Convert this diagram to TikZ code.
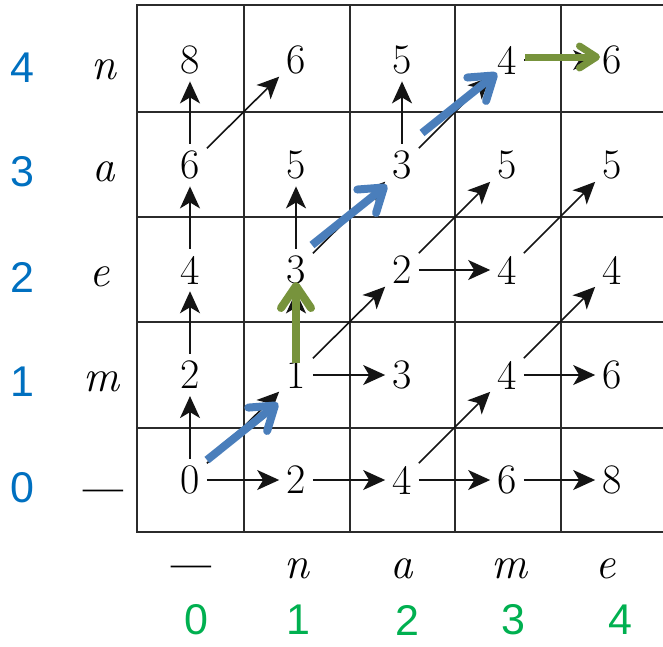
\documentclass[tikz,border=0pt]{standalone}
\usepackage{fontspec}
\newfontfamily\labelfont{Liberation Sans}
\newfontfamily\dashfont{Latin Modern Roman}[FakeBold=2.5]
\usetikzlibrary{arrows.meta}
\definecolor{lblblue}{HTML}{0070C0}
\definecolor{lblgreen}{HTML}{00B050}
\definecolor{arrblue}{HTML}{4A7EBB}
\definecolor{arrgreen}{HTML}{77933C}
\definecolor{gridc}{HTML}{2B2B2B}
\begin{document}
\begin{tikzpicture}[x=1pt,y=-1pt,
  num/.style={font=\fontsize{42}{50}\selectfont, inner sep=7pt},
  letter/.style={font=\fontsize{45}{52}\selectfont\itshape, inner sep=0pt},
  dashlbl/.style={font=\dashfont\fontsize{42}{50}\selectfont, inner sep=0pt},
  lbl/.style={font=\labelfont\fontsize{43}{50}\selectfont, inner sep=0pt},
  gridline/.style={draw=gridc, line width=2pt},
  blk/.style={draw=black!92, line width=1.6pt, -{Stealth[length=22pt,width=20pt,inset=6pt]}},
  bluearr/.style={draw=arrblue, line width=8pt, -{Straight Barb[length=22pt,width=30pt,round]}},
  greenarr/.style={draw=arrgreen, line width=8pt, -{Straight Barb[length=22pt,width=30pt,round]}},
  greensmall/.style={draw=arrgreen, line width=7pt, -{Straight Barb[length=17pt,width=22pt,round]}}
]
\useasboundingbox (0,0) rectangle (663,646);
\fill[white] (0,0) rectangle (663,646);
% grid
\foreach \gx in {137,243.5,349.5,455,561} \draw[gridline] (\gx,5) -- (\gx,532);
\foreach \gy in {5,112,217,322,427.5,532} \draw[gridline] (136,\gy) -- (663,\gy);
% cell values
\node[num] (c04) at (190,60) {8};
\node[num] (c14) at (296,60) {6};
\node[num] (c24) at (402,60) {5};
\node[num] (c34) at (507,60) {4};
\node[num] (c44) at (612,60) {6};
\node[num] (c03) at (190,165) {6};
\node[num] (c13) at (296,165) {5};
\node[num] (c23) at (402,165) {3};
\node[num] (c33) at (507,165) {5};
\node[num] (c43) at (612,165) {5};
\node[num] (c02) at (190,270) {4};
\node[num] (c12) at (296,270) {3};
\node[num] (c22) at (402,270) {2};
\node[num] (c32) at (507,270) {4};
\node[num] (c42) at (612,270) {4};
\node[num] (c01) at (190,375) {2};
\node[num] (c11) at (296,375) {1};
\node[num] (c21) at (402,375) {3};
\node[num] (c31) at (507,375) {4};
\node[num] (c41) at (612,375) {6};
\node[num] (c00) at (190,480) {0};
\node[num] (c10) at (296,480) {2};
\node[num] (c20) at (402,480) {4};
\node[num] (c30) at (507,480) {6};
\node[num] (c40) at (612,480) {8};
% black arrows: horizontal
\draw[blk] (c00) -- (c10);
\draw[blk] (c10) -- (c20);
\draw[blk] (c20) -- (c30);
\draw[blk] (c30) -- (c40);
\draw[blk] (c11) -- (c21);
\draw[blk] (c31) -- (c41);
\draw[blk] (c22) -- (c32);
\draw[blk] (c34) -- (c44);
% vertical
\draw[blk] (c00) -- (c01);
\draw[blk] (c01) -- (c02);
\draw[blk] (c02) -- (c03);
\draw[blk] (c03) -- (c04);
\draw[blk] (c11) -- (c12);
\draw[blk] (c12) -- (c13);
\draw[blk] (c23) -- (c24);
% diagonal
\draw[blk] (c00) -- (c11);
\draw[blk] (c20) -- (c31);
\draw[blk] (c31) -- (c42);
\draw[blk] (c11) -- (c22);
\draw[blk] (c12) -- (c23);
\draw[blk] (c22) -- (c33);
\draw[blk] (c32) -- (c43);
\draw[blk] (c03) -- (c14);
\draw[blk] (c23) -- (c34);
% highlighted path
\draw[bluearr] ([shift={(17,-20)}]c00.center) -- ([shift={(-18,28)}]c11.center);
\draw[greenarr] ([shift={(0,-12)}]c11.center) -- ([shift={(0,12)}]c12.center);
\draw[bluearr] ([shift={(16,-25)}]c12.center) -- ([shift={(-15,20)}]c23.center);
\draw[bluearr] ([shift={(20,-32)}]c23.center) -- ([shift={(-10,13)}]c34.center);
\draw[greensmall] ([shift={(18,-3)}]c34.center) -- ([shift={(-12,-3)}]c44.center);
% row labels
\node[lbl, text=lblblue] (ri4) at (22,68) {4};
\node[lbl, text=lblblue] (ri3) at (22,172) {3};
\node[lbl, text=lblblue] (ri2) at (22,277) {2};
\node[lbl, text=lblblue] (ri1) at (22,382) {1};
\node[lbl, text=lblblue] (ri0) at (22,488) {0};
\node[letter] (rl4) at (104,70) {n};
\node[letter] (rl3) at (104,172) {a};
\node[letter] (rl2) at (100,277) {e};
\node[letter] (rl1) at (101,382) {m};
\node[dashlbl] (rl0) at (103,496) {\textemdash};
% column labels
\node[dashlbl] (cl0) at (191,572) {\textemdash};
\node[letter] (cl1) at (297,569) {n};
\node[letter] (cl2) at (402,569) {a};
\node[letter] (cl3) at (509,569) {m};
\node[letter] (cl4) at (606,569) {e};
\node[lbl, text=lblgreen] (ci0) at (196,620) {0};
\node[lbl, text=lblgreen] (ci1) at (298,620) {1};
\node[lbl, text=lblgreen] (ci2) at (407,620) {2};
\node[lbl, text=lblgreen] (ci3) at (513,620) {3};
\node[lbl, text=lblgreen] (ci4) at (620,620) {4};
\end{tikzpicture}
\end{document}
